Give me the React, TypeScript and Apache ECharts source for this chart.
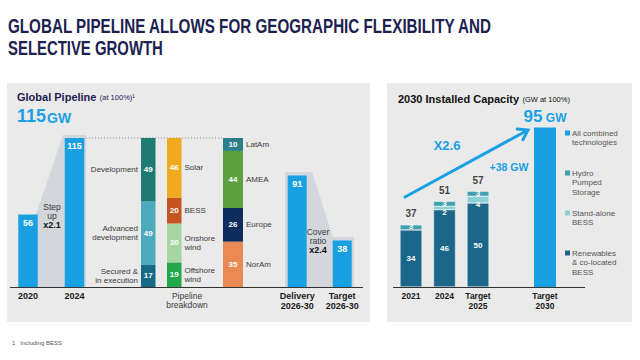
import React, { useEffect, useRef } from 'react';
import * as echarts from 'echarts';

// ---------- data ----------
const histYears = ['2020', '2024'];
const histValues = [56, 115];

const statusNames = ['Secured &\nin execution', 'Advanced\ndevelopment', 'Development'];
const statusValues = [17, 49, 49];

const techNames = ['Offshore\nwind', 'Onshore\nwind', 'BESS', 'Solar'];
const techValues = [19, 30, 20, 46];

const regionNames = ['NorAm', 'Europe', 'AMEA', 'LatAm'];
const regionValues = [35, 26, 44, 10];

const outlookCats = ['Delivery\n2026-30', 'Target\n2026-30'];
const outlookValues = [91, 38];

const capCats = ['2021', '2024', 'Target\n2025', '', 'Target\n2030'];
const capRenewables = [34, 46, 50, null, null];
const capBess = [null, 2, 4, null, null];
const capHydro = [3, 3, 3, null, null];
const capCombined = [null, null, null, null, 95];
const capTotals = [37, 51, 57, null, null];

const legendLabels = ['All combined\ntechnologies', 'Hydro\nPumped\nStorage', 'Stand-alone\nBESS', 'Renewables\n& co-located\nBESS'];

// ---------- styles ----------
const FONT = '"Liberation Sans", Arial, Helvetica, sans-serif';
const NAVY = '#1c2150';
const BLUE = '#19a0e3';
const TXT = '#3a3a3a';
const PANEL = '#eaeaea';
const SHAPE = '#d3d6da';

const statusColors = ['#176a86', '#4baabb', '#1d7b74'];
const techColors = ['#22a84b', '#a5d6a2', '#c4551f', '#f0aa1d'];
const regionColors = ['#e98a55', '#0f2c5e', '#5b9f40', '#2b7f88'];
const C_RENEW = '#1c6789';
const C_BESS = '#8dd0d8';
const C_HYDRO = '#3fa0ae';

const BASE = 287;
const L_TOP = 131.5, L_MAX = 120;
const D_TOP = 140, D_MAX = 120;
const R_TOP = 119, R_MAX = 100;
const yL = (v: number) => BASE - (v * (BASE - L_TOP)) / L_MAX;
const yD = (v: number) => BASE - (v * (BASE - D_TOP)) / D_MAX;

const dash = (a: (number | null)[]) => a.map((v) => (v == null ? '-' : v));

function stackSeries(g: number, names: string[], values: number[], colors: string[], side: string, width: number) {
  const out: any[] = [];
  names.forEach((n, i) => {
    out.push({
      type: 'bar', name: n.replace('\n', ' '), xAxisIndex: g, yAxisIndex: g, stack: 'v' + g,
      barWidth: width, barGap: '-100%', data: [values[i]],
      itemStyle: { color: colors[i] },
      label: { show: true, position: 'inside', color: '#fff', fontWeight: 'bold', fontSize: 8, fontFamily: FONT },
    });
  });
  names.forEach((n, i) => {
    out.push({
      type: 'bar', name: n.replace('\n', ' ') + ' label', xAxisIndex: g, yAxisIndex: g, stack: 'n' + g,
      barWidth: width, barGap: '-100%', data: [values[i]], silent: true,
      itemStyle: { color: 'rgba(0,0,0,0)' },
      label: { show: true, position: side, distance: 3, formatter: n, color: TXT, fontSize: 8, lineHeight: 9, fontFamily: FONT },
    });
  });
  return out;
}

function txt(x: number, y: number, text: string, font: string, fill: string, align = 'left', extra: any = {}) {
  return {
    type: 'text', x, y, z: 100, ...extra,
    style: { text, font, fill, align, textAlign: align, verticalAlign: 'middle', textVerticalAlign: 'middle', ...(extra.style || {}) },
  };
}

export default function App() {
  const ref = useRef<HTMLDivElement>(null);
  useEffect(() => {
    const chart = echarts.init(ref.current!, null, { renderer: 'svg' });

    const hiddenX = (g: number, data: string[]) => ({ type: 'category', gridIndex: g, data, show: false });
    const labX = (g: number, data: string[], size: number) => ({
      type: 'category', gridIndex: g, data,
      axisLine: { show: false }, axisTick: { show: false },
      axisLabel: { margin: 4, fontSize: size, fontWeight: 'bold', color: '#1a1a1a', lineHeight: 10, fontFamily: FONT, interval: 0 },
    });
    const yAx = (g: number, max: number) => ({ type: 'value', gridIndex: g, min: 0, max, show: false });

    const grids = [
      { left: 4.75, width: 93, top: L_TOP, height: BASE - L_TOP },
      { left: 141, width: 14.5, top: L_TOP, height: BASE - L_TOP },
      { left: 167, width: 14.5, top: L_TOP, height: BASE - L_TOP },
      { left: 223, width: 20, top: L_TOP, height: BASE - L_TOP },
      { left: 274.7, width: 90, top: D_TOP, height: BASE - D_TOP },
      { left: 394.25, width: 167.5, top: R_TOP, height: BASE - R_TOP },
    ];

    const bigLabel = { show: true, position: 'insideTop', distance: 4, color: '#fff', fontWeight: 'bold', fontSize: 9, fontFamily: FONT };

    const series: any[] = [
      { type: 'bar', name: 'Global pipeline', xAxisIndex: 0, yAxisIndex: 0, barWidth: 19.5, data: histValues, itemStyle: { color: BLUE }, label: bigLabel },
      ...stackSeries(1, statusNames, statusValues, statusColors, 'left', 14.5),
      ...stackSeries(2, techNames, techValues, techColors, 'right', 14.5),
      ...stackSeries(3, regionNames, regionValues, regionColors, 'right', 20),
      { type: 'bar', name: 'Outlook', xAxisIndex: 4, yAxisIndex: 4, barWidth: 19, data: outlookValues, itemStyle: { color: BLUE }, label: bigLabel },
      {
        type: 'bar', name: 'Renewables & co-located BESS', xAxisIndex: 5, yAxisIndex: 5, stack: 'cap', barWidth: 22,
        data: dash(capRenewables), itemStyle: { color: C_RENEW, borderColor: '#e8f4f6', borderWidth: 0.5 },
        label: { show: true, position: 'inside', color: '#fff', fontWeight: 'bold', fontSize: 8, fontFamily: FONT },
      },
      {
        type: 'bar', name: 'Stand-alone BESS', xAxisIndex: 5, yAxisIndex: 5, stack: 'cap', barWidth: 22,
        data: dash(capBess), itemStyle: { color: C_BESS, borderColor: '#e8f4f6', borderWidth: 0.5 },
        label: { show: true, position: 'inside', offset: [0, 4.5], color: '#fff', fontWeight: 'bold', fontSize: 8, fontFamily: FONT },
      },
      {
        type: 'bar', name: 'Hydro Pumped Storage', xAxisIndex: 5, yAxisIndex: 5, stack: 'cap', barWidth: 22,
        data: dash(capHydro), itemStyle: { color: C_HYDRO, borderColor: '#e8f4f6', borderWidth: 0.5 },
        label: { show: true, position: 'inside', offset: [0, -0.5], color: '#fff', fontWeight: 'bold', fontSize: 8, fontFamily: FONT },
      },
      {
        type: 'bar', name: 'All combined technologies', xAxisIndex: 5, yAxisIndex: 5, stack: 'cap', barWidth: 22,
        data: dash(capCombined), itemStyle: { color: BLUE },
        label: {
          show: true, position: 'top', distance: 2, formatter: '{a|{c}}{b| GW}',
          rich: {
            a: { fontSize: 17, fontWeight: 'bold', color: BLUE, fontFamily: FONT },
            b: { fontSize: 12, fontWeight: 'bold', color: BLUE, fontFamily: FONT, padding: [3, 0, 0, 0] },
          },
        },
      },
      {
        type: 'scatter', name: 'Total', xAxisIndex: 5, yAxisIndex: 5, symbolSize: 0, data: dash(capTotals), silent: true,
        label: { show: true, position: 'top', distance: 6, color: '#111', fontWeight: 'bold', fontSize: 10, fontFamily: FONT },
      },
    ];

    // decorative shapes derived from the scales
    const stepPoly = [[36, yL(histValues[0])], [63, yL(histValues[1]) - 3], [86, yL(histValues[1]) - 3], [86, BASE], [36, BASE]];
    const coverPoly = [[285, yD(outlookValues[0]) - 3.5], [312, yD(outlookValues[0]) - 3.5], [333, yD(outlookValues[1]) - 3.5], [354, yD(outlookValues[1]) - 3.5], [354, BASE], [285, BASE]];

    // arrow
    const ax0 = 405, ay0 = 197, ax1 = 528, ay1 = 130;
    const len = Math.hypot(ax1 - ax0, ay1 - ay0);
    const ux = (ax1 - ax0) / len, uy = (ay1 - ay0) / len;
    const nx = -uy, ny = ux;
    const w1 = [ax1 - 9 * ux + 6 * nx, ay1 - 9 * uy + 6 * ny];
    const w2 = [ax1 - 9 * ux - 6 * nx, ay1 - 9 * uy - 6 * ny];

    const legendColors = [BLUE, C_HYDRO, C_BESS, C_RENEW];
    const legendEls: any[] = [];
    legendLabels.forEach((l, i) => {
      const y0 = 133 + i * 40;
      legendEls.push({ type: 'rect', z: 100, shape: { x: 565, y: y0 - 2.5, width: 5, height: 5 }, style: { fill: legendColors[i] } });
      legendEls.push({
        type: 'text', x: 572, y: y0 - 4.75, z: 100,
        style: { text: l, font: `8px ${FONT}`, fill: '#555', lineHeight: 9.5, align: 'left', textAlign: 'left', verticalAlign: 'top', textVerticalAlign: 'top' },
      });
    });

    const graphic: any[] = [
      { type: 'rect', z: 0, shape: { x: 7, y: 83, width: 363, height: 239 }, style: { fill: PANEL } },
      { type: 'rect', z: 0, shape: { x: 387, y: 83, width: 245, height: 239 }, style: { fill: PANEL } },
      { type: 'polygon', z: 1, shape: { points: stepPoly }, style: { fill: SHAPE } },
      { type: 'polygon', z: 1, shape: { points: coverPoly }, style: { fill: SHAPE } },
      { type: 'line', z: 1, shape: { x1: 86, y1: yL(histValues[1]), x2: 223, y2: yL(histValues[1]) }, style: { stroke: '#8a8a8a', lineWidth: 1, lineDash: [1, 2] } },
      { type: 'line', z: 50, shape: { x1: 10, y1: BASE + 0.5, x2: 363, y2: BASE + 0.5 }, style: { stroke: '#333', lineWidth: 1 } },
      { type: 'line', z: 50, shape: { x1: 393, y1: BASE + 0.5, x2: 585, y2: BASE + 0.5 }, style: { stroke: '#333', lineWidth: 1 } },
      txt(8, 26, 'GLOBAL PIPELINE ALLOWS FOR GEOGRAPHIC FLEXIBILITY AND', `bold 21px ${FONT}`, NAVY, 'left', { scaleX: 0.724 }),
      txt(8, 48, 'SELECTIVE GROWTH', `bold 21px ${FONT}`, NAVY, 'left', { scaleX: 0.71 }),
      {
        type: 'text', x: 17, y: 97, z: 100,
        style: {
          text: '{a|Global Pipeline} {b|(at 100%)¹}', verticalAlign: 'middle', textVerticalAlign: 'middle',
          rich: {
            a: { fontSize: 11, fontWeight: 'bold', fill: NAVY, color: NAVY, fontFamily: FONT },
            b: { fontSize: 7.5, fill: NAVY, color: NAVY, fontFamily: FONT },
          },
        },
      },
      {
        type: 'text', x: 17, y: 116, z: 100,
        style: {
          text: '{a|115}{b|GW}', verticalAlign: 'middle', textVerticalAlign: 'middle',
          rich: {
            a: { fontSize: 18, fontWeight: 'bold', fill: BLUE, color: BLUE, fontFamily: FONT },
            b: { fontSize: 14, fontWeight: 'bold', fill: BLUE, color: BLUE, fontFamily: FONT, padding: [3, 0, 0, 1] },
          },
        },
      },
      {
        type: 'text', x: 398, y: 99, z: 100,
        style: {
          text: '{a|2030 Installed Capacity} {b|(GW at 100%)}', verticalAlign: 'middle', textVerticalAlign: 'middle',
          rich: {
            a: { fontSize: 11, fontWeight: 'bold', fill: '#111', color: '#111', fontFamily: FONT },
            b: { fontSize: 7.5, fill: '#111', color: '#111', fontFamily: FONT },
          },
        },
      },
      {
        type: 'text', x: 52, y: 216, z: 100,
        style: {
          text: '{n|Step}\n{n|up}\n{b|x2.1}', align: 'center', textAlign: 'center', verticalAlign: 'middle', textVerticalAlign: 'middle',
          rich: {
            n: { fontSize: 8.5, lineHeight: 9, fill: TXT, color: TXT, fontFamily: FONT, align: 'center' },
            b: { fontSize: 9, lineHeight: 10, fontWeight: 'bold', fill: '#111', color: '#111', fontFamily: FONT, align: 'center' },
          },
        },
      },
      {
        type: 'text', x: 318, y: 241, z: 100,
        style: {
          text: '{n|Cover}\n{n|ratio}\n{b|x2.4}', align: 'center', textAlign: 'center', verticalAlign: 'middle', textVerticalAlign: 'middle',
          rich: {
            n: { fontSize: 8.5, lineHeight: 9, fill: TXT, color: TXT, fontFamily: FONT, align: 'center' },
            b: { fontSize: 9, lineHeight: 10, fontWeight: 'bold', fill: '#111', color: '#111', fontFamily: FONT, align: 'center' },
          },
        },
      },
      {
        type: 'text', x: 187, y: 300.5, z: 100,
        style: { text: 'Pipeline\nbreakdown', font: `8.5px ${FONT}`, fill: TXT, lineHeight: 9.5, align: 'center', textAlign: 'center', verticalAlign: 'middle', textVerticalAlign: 'middle' },
      },
      { type: 'line', z: 60, shape: { x1: ax0, y1: ay0, x2: ax1 - 1.5 * ux, y2: ay1 - 1.5 * uy }, style: { stroke: BLUE, lineWidth: 3, lineCap: 'round' } },
      { type: 'polyline', z: 60, shape: { points: [w1, [ax1, ay1], w2] }, style: { stroke: BLUE, lineWidth: 3, fill: null, lineJoin: 'miter', lineCap: 'round' } },
      txt(447, 145, 'X2.6', `bold 13px ${FONT}`, BLUE, 'center'),
      txt(509, 167, '+38 GW', `bold 10.5px ${FONT}`, BLUE, 'center'),
      ...legendEls,
      txt(12, 343, '1   Including BESS', `6px ${FONT}`, '#555', 'left'),
    ];

    chart.setOption({
      animation: false,
      backgroundColor: '#ffffff',
      textStyle: { fontFamily: FONT },
      grid: grids,
      xAxis: [
        labX(0, histYears, 9),
        hiddenX(1, ['status']),
        hiddenX(2, ['tech']),
        hiddenX(3, ['region']),
        labX(4, outlookCats, 9),
        labX(5, capCats, 8.5),
      ],
      yAxis: [yAx(0, L_MAX), yAx(1, L_MAX), yAx(2, L_MAX), yAx(3, L_MAX), yAx(4, D_MAX), yAx(5, R_MAX)],
      series,
      graphic: { elements: graphic },
    });
    return () => chart.dispose();
  }, []);
  return <div ref={ref} style={{ position: 'fixed', left: 0, top: 0, width: 640, height: 360 }} />;
}
